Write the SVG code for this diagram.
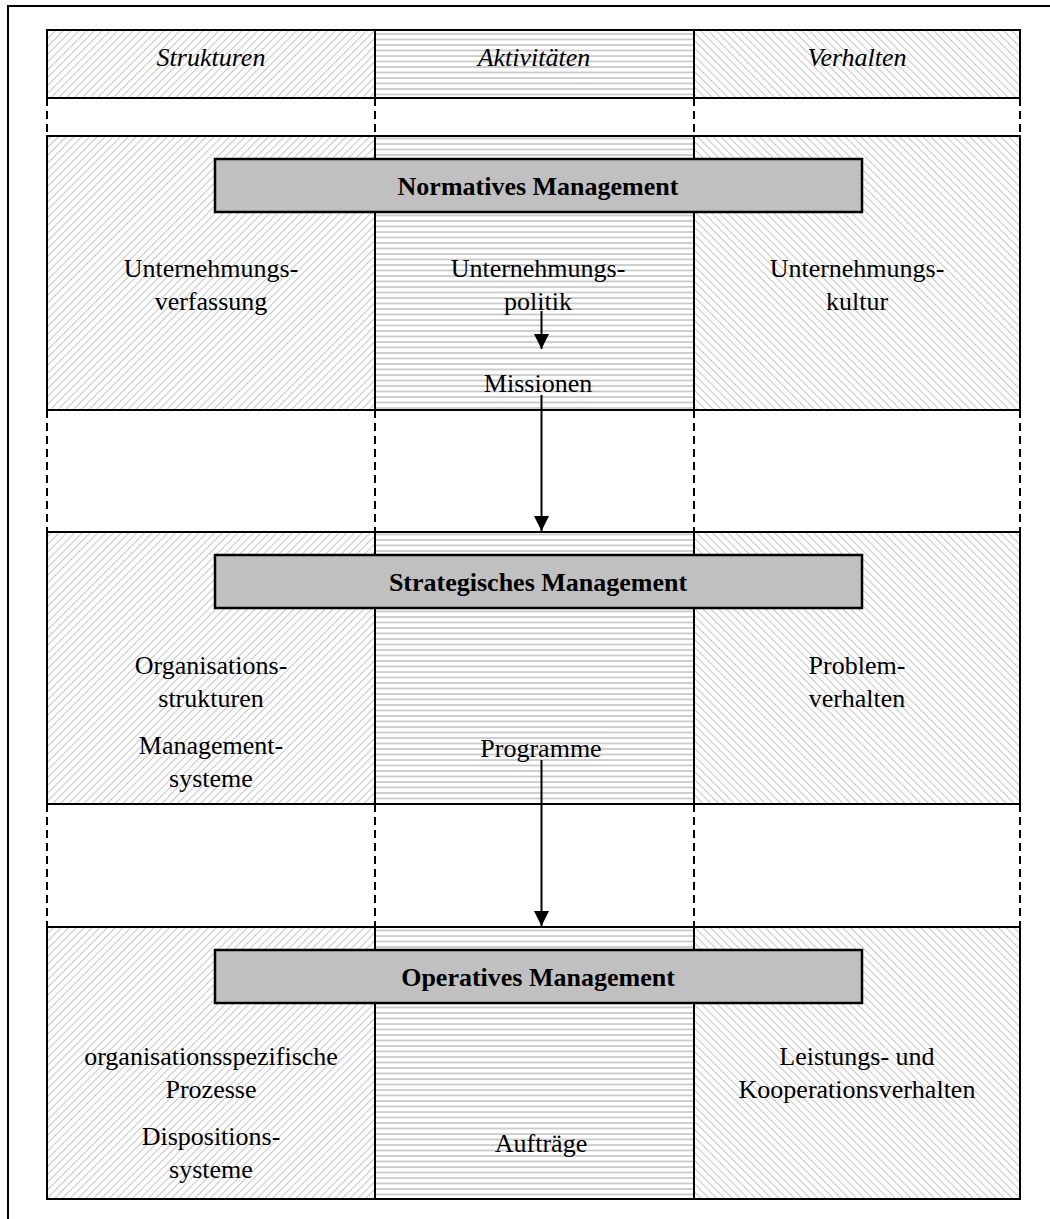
<svg xmlns="http://www.w3.org/2000/svg" width="1050" height="1219" viewBox="0 0 1050 1219">
  <defs>
    <!-- column fills: "/" hatch, horizontal rules, "\" hatch -->
    <pattern id="hatchFwd" patternUnits="userSpaceOnUse" width="5.5" height="5.5" patternTransform="rotate(45)">
      <rect width="5.5" height="5.5" fill="#ffffff"/>
      <line x1="0" y1="0" x2="0" y2="5.5" stroke="#c4c4c4" stroke-width="2"/>
    </pattern>
    <pattern id="hatchBack" patternUnits="userSpaceOnUse" width="5.5" height="5.5" patternTransform="rotate(-45)">
      <rect width="5.5" height="5.5" fill="#ffffff"/>
      <line x1="0" y1="0" x2="0" y2="5.5" stroke="#c4c4c4" stroke-width="2"/>
    </pattern>
    <pattern id="hatchHor" patternUnits="userSpaceOnUse" width="6" height="5.5">
      <rect width="6" height="5.5" fill="#ffffff"/>
      <line x1="0" y1="1" x2="6" y2="1" stroke="#c4c4c4" stroke-width="1.6"/>
    </pattern>
    <marker id="arrow" markerWidth="16" markerHeight="15" refX="16" refY="8" orient="auto" markerUnits="userSpaceOnUse" viewBox="0 0 16 16">
      <path d="M0,0 L16,8 L0,16 Z" fill="#000"/>
    </marker>
  </defs>
  <style>
    .cell { stroke: #000; stroke-width: 2; }
    .c1 { fill: url(#hatchFwd); }
    .c2 { fill: url(#hatchHor); }
    .c3 { fill: url(#hatchBack); }
    .bar { fill: #c0c0c0; stroke: #000; stroke-width: 2.5; }
    .dash { stroke: #000; stroke-width: 2; stroke-dasharray: 8 5; fill: none; }
    .frame { stroke: #000; stroke-width: 2; fill: none; }
    .head { font-family: "Liberation Serif", "Times New Roman", serif; font-style: italic; font-size: 26px; text-anchor: middle; fill: #000; }
    .txt { font-family: "Liberation Serif", "Times New Roman", serif; font-size: 26px; text-anchor: middle; fill: #000; }
    .title { font-family: "Liberation Serif", "Times New Roman", serif; font-weight: bold; font-size: 26px; text-anchor: middle; fill: #000; }
    .conn { stroke: #000; stroke-width: 2; fill: none; }
  </style>

  <rect width="1050" height="1219" fill="#ffffff"/>
  <!-- outer frame (right and bottom edges lie outside the page) -->
  <path class="frame" d="M8,1219 V6 H1050"/>

  <!-- header row -->
  <g id="header">
    <rect class="cell c1" x="47" y="30" width="328" height="68"/>
    <rect class="cell c2" x="375" y="30" width="319" height="68"/>
    <rect class="cell c3" x="694" y="30" width="326" height="68"/>
    <text class="head" x="211" y="66">Strukturen</text>
    <text class="head" x="534" y="66">Aktivitäten</text>
    <text class="head" x="857" y="66">Verhalten</text>
  </g>

  <!-- dashed column guides between the blocks -->
  <g id="guides">
    <path class="dash" d="M47,98 V136 M375,98 V136 M694,98 V136 M1020,98 V136"/>
    <path class="dash" d="M47,410 V532 M375,410 V532 M694,410 V532 M1020,410 V532"/>
    <path class="dash" d="M47,804 V927 M375,804 V927 M694,804 V927 M1020,804 V927"/>
  </g>

  <!-- normative level -->
  <g id="normativ">
    <rect class="cell c1" x="47" y="136" width="328" height="274"/>
    <rect class="cell c2" x="375" y="136" width="319" height="274"/>
    <rect class="cell c3" x="694" y="136" width="326" height="274"/>
    <rect class="bar" x="215" y="159" width="647" height="53"/>
    <text class="title" x="538" y="195">Normatives Management</text>
    <text class="txt" x="211" y="277">Unternehmungs-</text>
    <text class="txt" x="211" y="310">verfassung</text>
    <text class="txt" x="538" y="277">Unternehmungs-</text>
    <text class="txt" x="538" y="310">politik</text>
    <text class="txt" x="538" y="392">Missionen</text>
    <text class="txt" x="857" y="277">Unternehmungs-</text>
    <text class="txt" x="857" y="310">kultur</text>
  </g>

  <!-- strategic level -->
  <g id="strategisch">
    <rect class="cell c1" x="47" y="532" width="328" height="272"/>
    <rect class="cell c2" x="375" y="532" width="319" height="272"/>
    <rect class="cell c3" x="694" y="532" width="326" height="272"/>
    <rect class="bar" x="215" y="555" width="647" height="53"/>
    <text class="title" x="538" y="591">Strategisches Management</text>
    <text class="txt" x="211" y="674">Organisations-</text>
    <text class="txt" x="211" y="707">strukturen</text>
    <text class="txt" x="211" y="754">Management-</text>
    <text class="txt" x="211" y="787">systeme</text>
    <text class="txt" x="541" y="757">Programme</text>
    <text class="txt" x="857" y="674">Problem-</text>
    <text class="txt" x="857" y="707">verhalten</text>
  </g>

  <!-- operative level -->
  <g id="operativ">
    <rect class="cell c1" x="47" y="927" width="328" height="272"/>
    <rect class="cell c2" x="375" y="927" width="319" height="272"/>
    <rect class="cell c3" x="694" y="927" width="326" height="272"/>
    <rect class="bar" x="215" y="950" width="647" height="53"/>
    <text class="title" x="538" y="986">Operatives Management</text>
    <text class="txt" x="211" y="1065">organisationsspezifische</text>
    <text class="txt" x="211" y="1098">Prozesse</text>
    <text class="txt" x="211" y="1145">Dispositions-</text>
    <text class="txt" x="211" y="1178">systeme</text>
    <text class="txt" x="541" y="1152">Aufträge</text>
    <text class="txt" x="857" y="1065">Leistungs- und</text>
    <text class="txt" x="857" y="1098">Kooperationsverhalten</text>
  </g>

  <!-- connectors -->
  <g id="connectors">
    <line class="conn" x1="541.5" y1="311" x2="541.5" y2="349" marker-end="url(#arrow)"/>
    <line class="conn" x1="541.5" y1="395" x2="541.5" y2="531" marker-end="url(#arrow)"/>
    <line class="conn" x1="541.5" y1="760" x2="541.5" y2="926" marker-end="url(#arrow)"/>
  </g>
</svg>
